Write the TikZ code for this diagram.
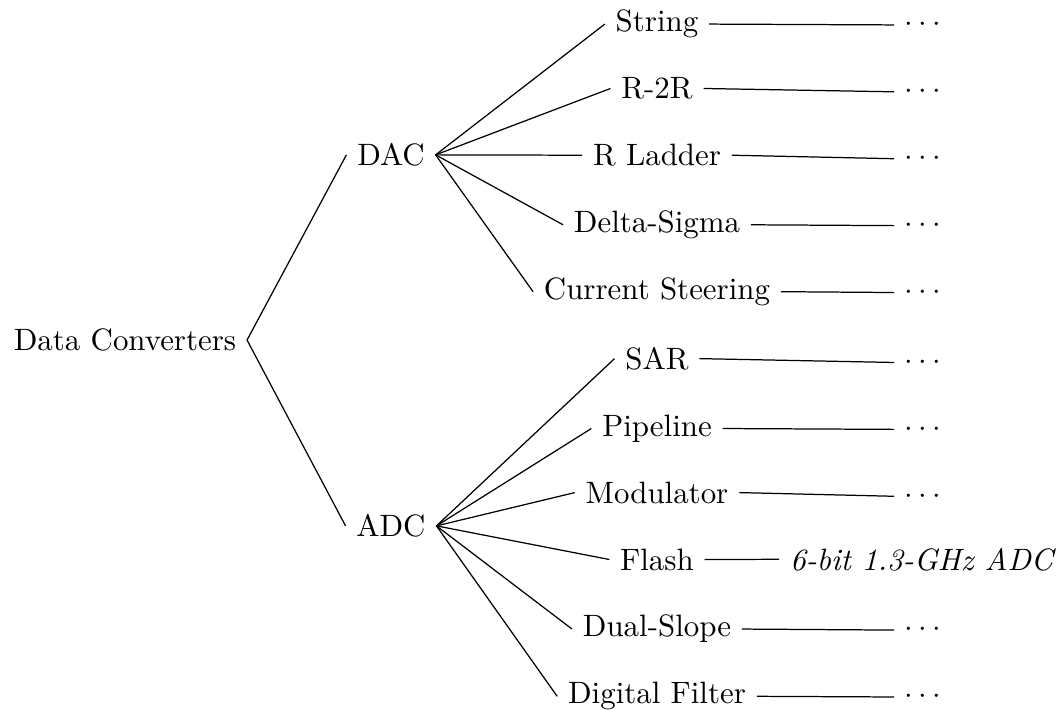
\documentclass[tikz,border=0pt]{standalone}
\begin{document}
\begin{tikzpicture}[x=0.3236pt,y=-0.3236pt,
  lbl/.style={anchor=base,inner sep=0.3333em},
  branch/.style={draw=black,line width=0.4pt}]
\useasboundingbox (0,0) rectangle (1062,710);

% root and first level
\node[lbl] (root) at (125,350.6) {Data Converters};
\node[lbl] (dac) at (391,165.6) {DAC};
\node[lbl] (adc) at (391,536.6) {ADC};

% DAC architectures
\node[lbl] (str)  at (657,31.8)  {String};
\node[lbl] (rtr)  at (657,98.7)  {R-2R};
\node[lbl] (rld)  at (657,165.6) {R Ladder};
\node[lbl] (dsg)  at (657,232.5) {Delta-Sigma};
\node[lbl] (cst)  at (657,299.4) {Current Steering};

% ADC architectures
\node[lbl] (sar)  at (657,369.35) {SAR};
\node[lbl] (pip)  at (657,436.25) {Pipeline};
\node[lbl] (mod)  at (657,503.15) {Modulator};
\node[lbl] (fls)  at (657,570.05) {Flash};
\node[lbl] (dsl)  at (657,636.95) {Dual-Slope};
\node[lbl] (dfl)  at (657,703.85) {Digital Filter};

% third level
\node[lbl] (strd) at (923,31.8)   {$\cdots$};
\node[lbl] (rtrd) at (923,98.7)   {$\cdots$};
\node[lbl] (rldd) at (923,165.6)  {$\cdots$};
\node[lbl] (dsgd) at (923,232.5)  {$\cdots$};
\node[lbl] (cstd) at (923,299.4)  {$\cdots$};
\node[lbl] (sard) at (923,369.35) {$\cdots$};
\node[lbl] (pipd) at (923,436.25) {$\cdots$};
\node[lbl] (modd) at (923,503.15) {$\cdots$};
\node[lbl] (flsd) at (923,570.05) {\textit{6-bit 1.3-GHz ADC}};
\node[lbl] (dsld) at (923,636.95) {$\cdots$};
\node[lbl] (dfld) at (923,703.85) {$\cdots$};

% branches
\draw[branch] (root.east) -- (dac.west);
\draw[branch] (root.east) -- (adc.west);
\foreach \c in {str,rtr,rld,dsg,cst}
  \draw[branch] (dac.east) -- (\c.west);
\foreach \c in {sar,pip,mod,fls,dsl,dfl}
  \draw[branch] (adc.east) -- (\c.west);
\foreach \c in {str,rtr,rld,dsg,cst,sar,pip,mod,fls,dsl,dfl}
  \draw[branch] (\c.east) -- (\c d.west);
\end{tikzpicture}
\end{document}
